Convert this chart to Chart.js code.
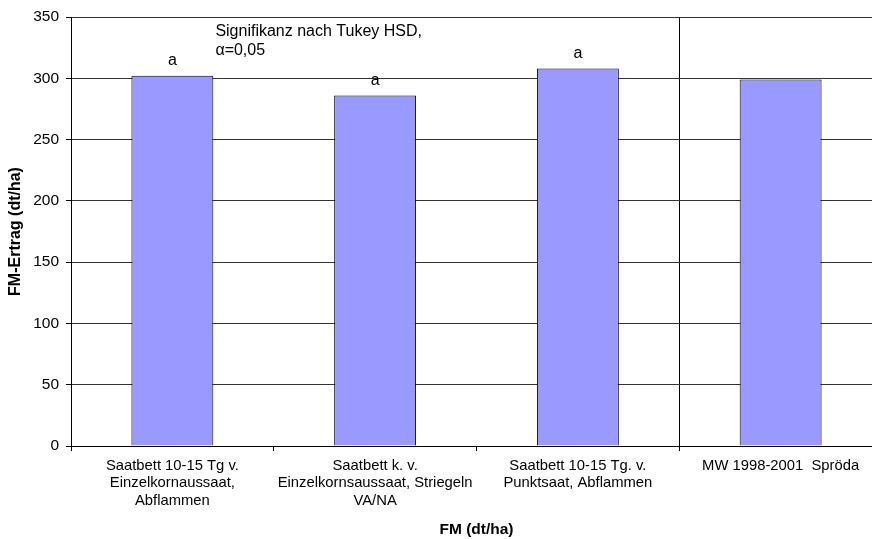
<!DOCTYPE html>
<html>
<head>
<meta charset="utf-8">
<script src="https://cdn.jsdelivr.net/npm/chart.js@4"></script>
<style>
    html, body { margin: 0; padding: 0; background: #fff; overflow: hidden; }
    #wrap { width: 884px; height: 539px; }
</style>
</head>
<body>
<div id="wrap"><canvas id="ertragChart" width="884" height="539"></canvas></div>
<script>
// data
var categories = [
    ["Saatbett 10-15 Tg v.", "Einzelkornaussaat,", "Abflammen"],
    ["Saatbett k. v.", "Einzelkornsaussaat, Striegeln", "VA/NA"],
    ["Saatbett 10-15 Tg. v.", "Punktsaat, Abflammen"],
    ["MW 1998-2001  Spröda"]
];
var ertrag = [302, 286, 308, 299];
var letters = ["a", "a", "a", ""];
var noteLines = ["Signifikanz nach Tukey HSD,", "α=0,05"];

var fontFamily = "'Liberation Sans', Arial, sans-serif";

// "a" above the bars and the Tukey note
var labelPlugin = {
    id: "labels",
    afterDatasetsDraw: function (chart) {
        var ctx = chart.ctx;
        var meta = chart.getDatasetMeta(0);
        ctx.save();
        ctx.fillStyle = "#000";
        ctx.font = "16px " + fontFamily;
        ctx.textAlign = "center";
        ctx.textBaseline = "middle";
        meta.data.forEach(function (bar, i) {
            if (letters[i]) ctx.fillText(letters[i], bar.x, bar.y - 15);
        });
        var x = chart.scales.x.getPixelForValue(0) + 43;
        var y = chart.scales.y.getPixelForValue(338);
        ctx.textAlign = "left";
        noteLines.forEach(function (line, i) {
            ctx.fillText(line, x, y + i * 18.5);
        });
        ctx.restore();
    }
};

document.addEventListener("DOMContentLoaded", function () {
    var ctx = document.getElementById("ertragChart").getContext("2d");
    new Chart(ctx, {
        type: "bar",
        data: {
            labels: categories,
            datasets: [{
                data: ertrag,
                backgroundColor: "#9999FF",
                borderColor: "#000",
                borderWidth: 1,
                barPercentage: 0.404,
                categoryPercentage: 1
            }]
        },
        options: {
            responsive: false,
            animation: false,
            devicePixelRatio: 1,
            layout: { padding: { top: 17, right: 2, left: 0, bottom: 0 } },
            plugins: {
                legend: { display: false },
                tooltip: { enabled: false }
            },
            scales: {
                x: {
                    afterFit: function (s) { s.height = 93; },
                    border: { color: "#000", width: 1 },
                    grid: {
                        offset: true,
                        drawTicks: true,
                        tickLength: 5,
                        tickColor: "#000",
                        color: function (c) { return c.index === 3 ? "#000" : "rgba(0,0,0,0)"; }
                    },
                    ticks: {
                        autoSkip: false,
                        maxRotation: 0,
                        padding: 6,
                        color: "#000",
                        font: { family: fontFamily, size: 14.8, lineHeight: "17.5px" }
                    },
                    title: {
                        display: true,
                        text: "FM (dt/ha)",
                        color: "#000",
                        padding: { top: 0, bottom: 0 },
                        font: { family: fontFamily, size: 15.5, weight: "bold" }
                    }
                },
                y: {
                    min: 0,
                    max: 350,
                    afterFit: function (s) { s.width = 71; },
                    border: { color: "#000", width: 1 },
                    grid: {
                        color: "#333",
                        tickLength: 5,
                        tickColor: "#000"
                    },
                    ticks: {
                        stepSize: 50,
                        padding: 7,
                        color: "#000",
                        font: { family: fontFamily, size: 15.5 }
                    },
                    title: {
                        display: true,
                        text: "FM-Ertrag (dt/ha)",
                        color: "#000",
                        padding: { top: 6, bottom: 0 },
                        font: { family: fontFamily, size: 16, weight: "bold" }
                    }
                }
            }
        },
        plugins: [labelPlugin]
    });
});
</script>
</body>
</html>
